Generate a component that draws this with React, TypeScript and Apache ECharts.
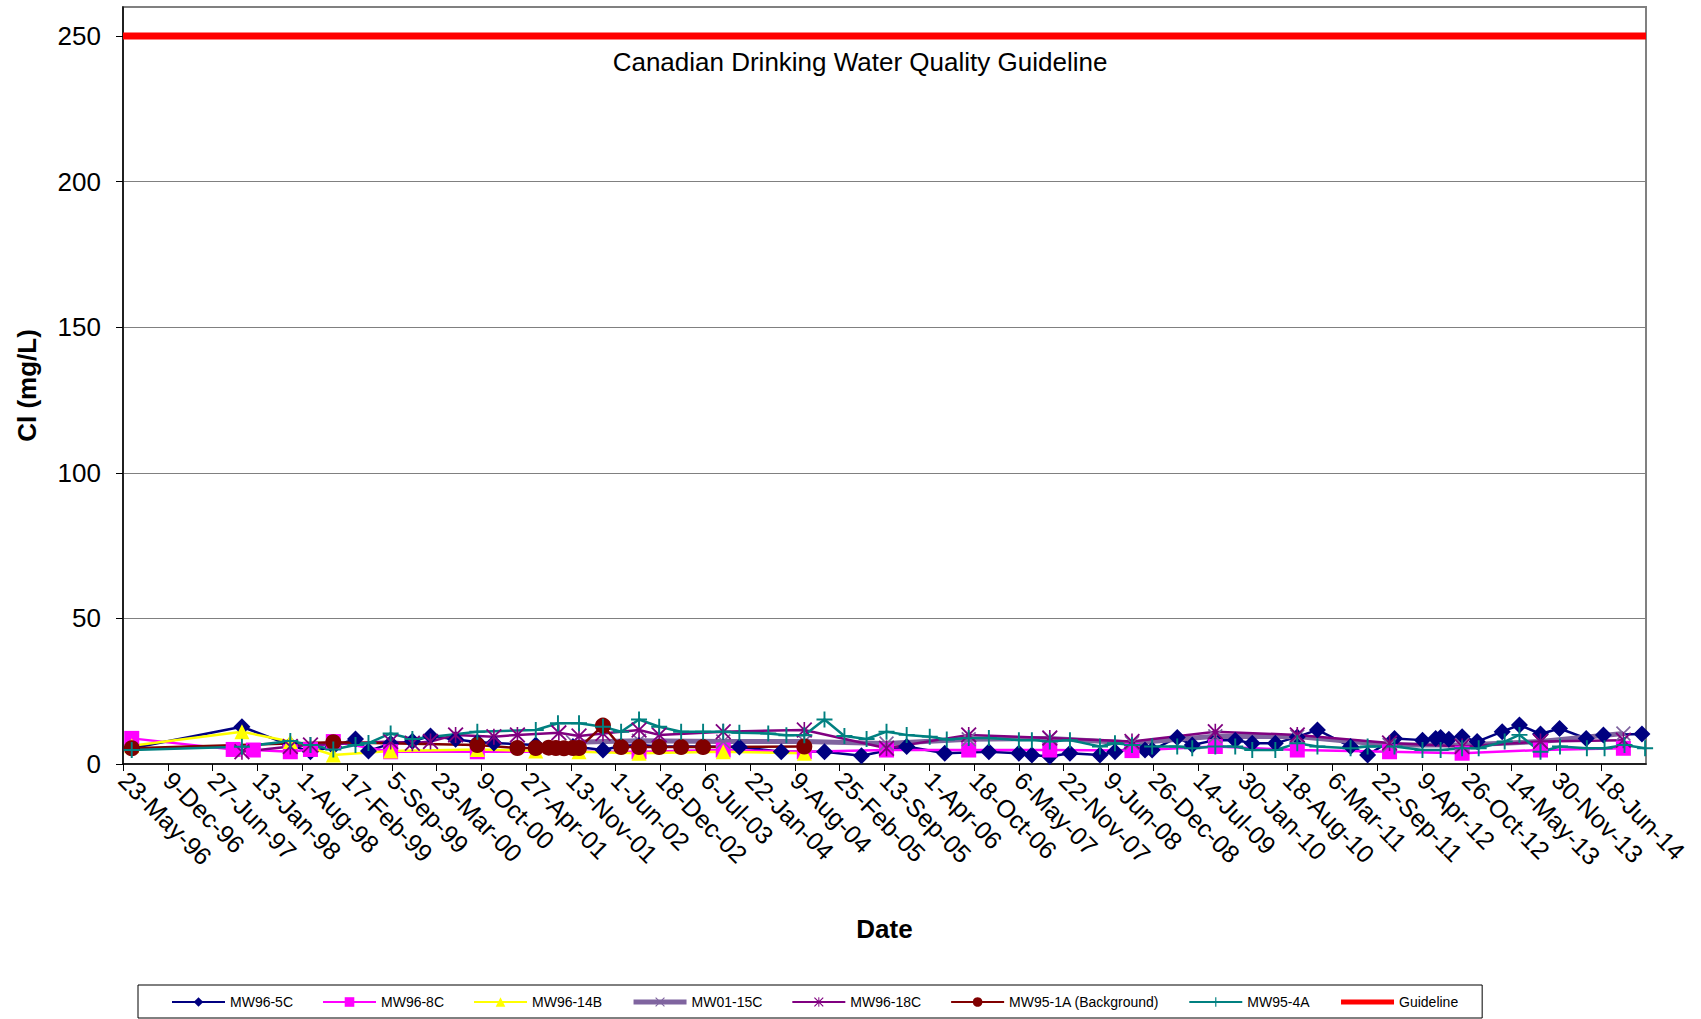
import React, { useEffect, useRef } from "react";
import * as echarts from "echarts";

// ---- data ----
const START_DATE = "1996-05-23";
const X_MAX_DAYS = 6800; // 34 ticks of 200 days
const X_STEP_DAYS = 200;
const Y_MAX = 260;
const Y_STEP = 50;
const GUIDELINE = 250;
const GUIDELINE_LABEL = "Canadian Drinking Water Quality Guideline";
const MONTHS = ["Jan", "Feb", "Mar", "Apr", "May", "Jun", "Jul", "Aug", "Sep", "Oct", "Nov", "Dec"];

const mw965C: [string, number][] = [
  ["1996-07-01", 5.4], ["1997-11-05", 12.8], ["1998-06-09", 6.5], ["1998-09-07", 4.2], ["1998-12-18", 6.0],
  ["1999-03-27", 8.6], ["1999-05-24", 4.5], ["1999-08-31", 7.0], ["1999-12-06", 7.8], ["2000-02-25", 9.6],
  ["2000-06-16", 8.5], ["2000-09-21", 7.5], ["2000-12-04", 7.2], ["2001-06-09", 6.5], ["2001-11-22", 6.0],
  ["2002-04-05", 4.8], ["2002-06-25", 6.2], ["2002-09-13", 6.5], ["2002-12-12", 6.0], ["2003-06-26", 6.0],
  ["2003-12-05", 5.8], ["2004-06-09", 4.2], ["2004-12-19", 4.2], ["2005-06-02", 2.8], ["2005-12-21", 6.0],
  ["2006-06-09", 3.7], ["2006-12-23", 4.2], ["2007-05-06", 3.7], ["2007-07-03", 3.1], ["2007-09-21", 2.6],
  ["2007-12-20", 3.7], ["2008-05-02", 3.1], ["2008-07-08", 4.2], ["2008-09-22", 5.4], ["2008-11-19", 4.8],
  ["2008-12-21", 4.8], ["2009-04-12", 9.1], ["2009-06-18", 6.5], ["2009-09-29", 8.2], ["2009-12-27", 8.2],
  ["2010-03-13", 7.1], ["2010-06-24", 7.1], ["2010-09-30", 9.3], ["2010-12-29", 11.7], ["2011-05-26", 6.0],
  ["2011-08-10", 3.1], ["2011-12-08", 8.8], ["2012-04-11", 8.2], ["2012-06-09", 8.8], ["2012-07-01", 9.1],
  ["2012-08-07", 8.5], ["2012-10-05", 9.4], ["2012-12-11", 7.7], ["2013-04-02", 11.1], ["2013-06-18", 13.4],
  ["2013-09-20", 10.3], ["2013-12-14", 12.2], ["2014-04-12", 8.8], ["2014-06-28", 10.0], ["2014-12-17", 10.3],
];

const mw968C: [string, number][] = [
  ["1996-07-01", 8.8], ["1997-09-27", 5.0], ["1997-12-26", 4.8], ["1998-06-09", 4.2], ["1998-09-07", 5.0],
  ["1998-12-18", 7.7], ["1999-08-31", 4.2], ["2000-09-21", 4.2], ["2002-09-13", 4.2], ["2003-09-24", 4.8],
  ["2004-09-20", 4.2], ["2005-09-22", 4.8], ["2006-09-24", 4.8], ["2007-09-21", 4.8], ["2008-09-22", 4.6],
  ["2009-09-29", 6.0], ["2010-09-30", 4.8], ["2011-11-16", 4.2], ["2012-10-05", 3.7], ["2013-09-20", 4.8],
  ["2014-09-25", 5.4],
];

const mw9614B: [string, number][] = [
  ["1996-07-01", 6.3], ["1997-11-05", 11.1], ["1998-06-09", 7.7], ["1998-12-18", 3.1], ["1999-08-31", 4.5],
  ["2000-09-21", 5.0], ["2001-06-09", 4.5], ["2001-12-19", 4.2], ["2002-09-13", 3.7], ["2003-09-24", 4.2],
  ["2004-09-20", 3.7],
];

const mw0115C: [string, number][] = [
  ["2001-11-22", 7.5], ["2002-09-13", 8.0], ["2003-09-24", 7.7], ["2004-09-20", 7.7], ["2005-09-22", 7.0],
  ["2006-09-24", 8.5], ["2007-09-21", 8.8], ["2008-09-22", 7.2], ["2009-09-29", 9.5], ["2010-09-30", 9.4],
  ["2011-11-16", 6.5], ["2012-10-05", 6.5], ["2013-09-20", 7.7], ["2014-09-25", 10.5],
];

const mw9618C: [string, number][] = [
  ["1997-11-05", 4.2], ["1998-06-09", 6.0], ["1998-09-07", 6.5], ["1999-08-31", 7.7], ["1999-12-06", 7.1],
  ["2000-02-25", 7.7], ["2000-06-16", 10.0], ["2000-12-04", 9.4], ["2001-03-19", 10.0], ["2001-09-20", 10.7],
  ["2001-12-19", 9.6], ["2002-04-05", 10.5], ["2002-09-13", 11.7], ["2002-12-12", 10.0], ["2003-09-24", 11.1],
  ["2004-09-20", 11.7], ["2005-09-22", 5.4], ["2006-09-24", 10.0], ["2007-09-21", 8.9], ["2008-09-22", 7.7],
  ["2009-09-29", 11.1], ["2010-09-30", 10.0], ["2011-11-16", 7.2], ["2012-10-05", 6.0], ["2013-09-20", 7.7],
  ["2014-09-25", 8.2],
];

const mw951A: [string, number][] = [
  ["1996-07-01", 5.4], ["1998-12-18", 7.5], ["2000-09-21", 6.5], ["2001-03-19", 5.5], ["2001-06-09", 5.5],
  ["2001-08-06", 5.6], ["2001-09-07", 5.5], ["2001-10-13", 5.4], ["2001-11-22", 5.5], ["2001-12-19", 5.5],
  ["2002-04-05", 13.2], ["2002-06-25", 5.8], ["2002-09-13", 5.8], ["2002-12-12", 5.8], ["2003-03-20", 5.8],
  ["2003-06-26", 5.8], ["2004-09-20", 6.0],
];

const mw954A: [string, number][] = [
  ["1996-07-01", 4.8], ["1997-11-05", 5.9], ["1998-06-09", 7.9], ["1998-09-07", 6.5], ["1998-12-18", 5.0],
  ["1999-03-27", 6.5], ["1999-05-24", 7.2], ["1999-08-31", 10.5], ["1999-12-06", 8.6], ["2000-09-21", 11.1],
  ["2001-06-09", 11.7], ["2001-09-16", 14.0], ["2001-12-19", 14.0], ["2002-04-05", 12.8], ["2002-06-25", 11.1],
  ["2002-09-13", 15.3], ["2002-12-12", 12.8], ["2003-03-20", 11.1], ["2003-06-26", 11.1], ["2003-09-24", 11.1],
  ["2003-12-05", 10.7], ["2004-04-12", 10.5], ["2004-07-02", 9.9], ["2004-09-20", 9.9], ["2004-12-19", 15.3],
  ["2005-03-18", 9.6], ["2005-06-25", 8.6], ["2005-09-22", 11.1], ["2005-12-21", 10.0], ["2006-04-03", 9.4],
  ["2006-06-18", 8.4], ["2006-09-24", 8.9], ["2006-12-23", 8.9], ["2007-05-06", 8.2], ["2007-07-03", 8.2],
  ["2007-09-21", 7.7], ["2007-12-20", 8.2], ["2008-05-02", 6.0], ["2008-07-08", 7.1], ["2008-09-22", 6.5],
  ["2008-12-21", 6.0], ["2009-04-12", 6.0], ["2009-06-18", 5.4], ["2009-09-29", 6.0], ["2009-12-27", 6.0],
  ["2010-03-13", 4.8], ["2010-06-24", 4.8], ["2010-09-30", 7.1], ["2010-12-29", 6.0], ["2011-05-26", 5.4],
  ["2011-08-10", 6.0], ["2011-12-08", 6.0], ["2012-04-11", 4.8], ["2012-07-01", 4.8], ["2012-10-05", 5.4],
  ["2012-12-18", 5.4], ["2013-04-13", 7.7], ["2013-06-18", 10.0], ["2013-09-20", 4.2], ["2013-12-16", 6.0],
  ["2014-04-15", 5.4], ["2014-07-03", 5.4], ["2014-09-30", 6.5], ["2014-12-31", 5.4],
];

// ---- helpers ----
const DAY_MS = 86400000;
const parseUTC = (s: string) => {
  const [y, m, d] = s.split("-").map(Number);
  return Date.UTC(y, m - 1, d);
};
const START_MS = parseUTC(START_DATE);
const toDays = (s: string) => Math.round((parseUTC(s) - START_MS) / DAY_MS);
const toPoints = (arr: [string, number][]) => arr.map(([d, v]) => [toDays(d), v]);
const fmtDay = (v: number) => {
  const dt = new Date(START_MS + v * DAY_MS);
  const yy = String(dt.getUTCFullYear() % 100).padStart(2, "0");
  return `${dt.getUTCDate()}-${MONTHS[dt.getUTCMonth()]}-${yy}`;
};

const FONT = "'Liberation Sans', Arial, Helvetica, sans-serif";
const PLUS = "path://M4.4,0H5.6V4.4H10V5.6H5.6V10H4.4V5.6H0V4.4H4.4Z";
const CROSS_D = "M0,0.8L0.8,0L5,4.2L9.2,0L10,0.8L5.8,5L10,9.2L9.2,10L5,5.8L0.8,10L0,9.2L4.2,5Z";
const CROSS = "path://" + CROSS_D;
const STAR = "path://" + CROSS_D + "M4.5,0H5.5V10H4.5Z";

function lineSeries(name: string, data: [string, number][], color: string, symbol: string, size: number, width: number) {
  return {
    name,
    type: "line",
    data: toPoints(data),
    symbol,
    symbolSize: size,
    showSymbol: true,
    lineStyle: { color, width },
    itemStyle: { color, borderWidth: 0 },
    emphasis: { disabled: true },
  };
}

export default function App() {
  const ref = useRef<HTMLDivElement>(null);
  useEffect(() => {
    if (!ref.current) return;
    const chart = echarts.init(ref.current, null, { renderer: "svg" });
    chart.setOption({
      animation: false,
      backgroundColor: "#ffffff",
      textStyle: { fontFamily: FONT },
      grid: { left: 123, top: 7, right: 55, bottom: 255, show: true, borderColor: "#808080", borderWidth: 2, backgroundColor: "transparent" },
      legend: {
        left: 138,
        top: 985,
        padding: [10, 24, 9, 33],
        itemGap: 29,
        itemWidth: 53,
        itemHeight: 12,
        borderColor: "#000000",
        borderWidth: 1,
        backgroundColor: "#ffffff",
        textStyle: { fontSize: 14, color: "#000", fontFamily: FONT },
        data: [
          { name: "MW96-5C" },
          { name: "MW96-8C" },
          { name: "MW96-14B" },
          { name: "MW01-15C", lineStyle: { width: 5 } },
          { name: "MW96-18C" },
          { name: "MW95-1A (Background)" },
          { name: "MW95-4A" },
          { name: "Guideline", itemStyle: { opacity: 0 }, lineStyle: { width: 5 } },
        ],
      },
      xAxis: {
        type: "value",
        min: 0,
        max: X_MAX_DAYS,
        interval: X_STEP_DAYS,
        name: "Date",
        nameLocation: "middle",
        nameGap: 152,
        nameTextStyle: { fontSize: 26, fontWeight: "bold", color: "#000", fontFamily: FONT },
        axisLine: { show: true, lineStyle: { color: "#000", width: 1.5 } },
        axisTick: { show: true, length: 7, lineStyle: { color: "#000" } },
        splitLine: { show: false },
        axisLabel: {
          rotate: -45,
          fontSize: 25,
          color: "#000",
          margin: 12,
          showMaxLabel: false,
          fontFamily: FONT,
          formatter: (v: number) => fmtDay(v),
        },
      },
      yAxis: {
        type: "value",
        min: 0,
        max: Y_MAX,
        interval: Y_STEP,
        name: "Cl (mg/L)",
        nameLocation: "middle",
        nameGap: 83,
        nameTextStyle: { fontSize: 26, fontWeight: "bold", color: "#000", fontFamily: FONT },
        axisLine: { show: true, lineStyle: { color: "#000", width: 1.5 } },
        axisTick: { show: true, length: 7, lineStyle: { color: "#000" } },
        splitLine: { show: true, lineStyle: { color: "#808080", width: 1 } },
        axisLabel: { fontSize: 26, color: "#000", margin: 22, showMaxLabel: false, fontFamily: FONT },
      },
      graphic: [
        {
          type: "text",
          x: 860,
          y: 62,
          style: { text: GUIDELINE_LABEL, fontSize: 26, fontFamily: FONT, fill: "#000", align: "center", verticalAlign: "middle" },
        },
      ],
      series: [
        lineSeries("MW96-5C", mw965C, "#000080", "diamond", 17, 2.5),
        lineSeries("MW96-8C", mw968C, "#FF00FF", "rect", 15, 2.5),
        lineSeries("MW96-14B", mw9614B, "#FFFF00", "triangle", 15, 2.5),
        lineSeries("MW01-15C", mw0115C, "#7F649F", CROSS, 15, 5),
        lineSeries("MW96-18C", mw9618C, "#800080", STAR, 16, 2.5),
        lineSeries("MW95-1A (Background)", mw951A, "#800000", "circle", 16, 2.5),
        lineSeries("MW95-4A", mw954A, "#008080", PLUS, 16, 2.5),
        {
          name: "Guideline",
          type: "line",
          data: [[0, GUIDELINE], [X_MAX_DAYS, GUIDELINE]],
          symbol: "none",
          lineStyle: { color: "#FF0000", width: 7 },
          itemStyle: { color: "#FF0000" },
          emphasis: { disabled: true },
        },
      ],
    });
    return () => chart.dispose();
  }, []);
  return (
    <div
      ref={ref}
      style={{ position: "fixed", left: 0, top: 0, width: "1701px", height: "1019px", background: "#fff" }}
    />
  );
}
